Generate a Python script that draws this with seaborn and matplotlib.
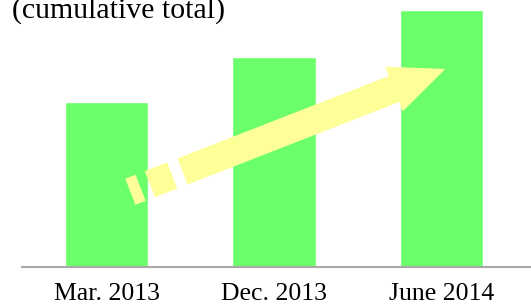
import numpy as np
import pandas as pd
import matplotlib
matplotlib.use("Agg")
import matplotlib.pyplot as plt
from matplotlib.patches import Polygon
import seaborn as sns

# data
periods = ["Mar. 2013", "Dec. 2013", "June 2014"]
totals = [165, 210, 257]
title_text = "(cumulative total)"

df = pd.DataFrame({"period": periods, "total": totals})

sns.set_style("white")
plt.rcParams["font.family"] = ["Liberation Serif", "DejaVu Serif"]

W, H = 531, 304
fig = plt.figure(figsize=(W / 100, H / 100), dpi=100)
ax = fig.add_axes([22 / W, (H - 267) / H, 509 / W, 267 / H])

sns.barplot(data=df, x="period", y="total", color="#6bff6b", width=0.5,
            saturation=1, ax=ax)

ax.set_xlim(-0.505, 2.534)
ax.set_ylim(0, 267)
ax.set_xlabel("")
ax.set_ylabel("")
ax.set_yticks([])
for s in ["top", "left", "right"]:
    ax.spines[s].set_visible(False)
ax.spines["bottom"].set_color("#a8a8a8")
ax.spines["bottom"].set_linewidth(1.5)
ax.tick_params(axis="x", length=0, pad=11.5, labelsize=18.5, colors="black")

fig.text(12 / W, (H - 18) / H, title_text, fontsize=21.5, va="baseline", ha="left",
         color="black")

# trend arrow, built in pixel space then moved to figure fraction
ang = np.deg2rad(21.3)
u = np.array([np.cos(ang), -np.sin(ang)])
n = np.array([np.sin(ang), np.cos(ang)])
base = np.array([394.0, 89.0])
tip = base + 55 * u


def to_fig(pts):
    pts = np.asarray(pts)
    return np.column_stack([pts[:, 0] / W, (H - pts[:, 1]) / H])


def seg(t0, t1, w=28):
    a = base - t0 * u
    b = base - t1 * u
    return [a - n * w / 2, a + n * w / 2, b + n * w / 2, b - n * w / 2]


yel = "#ffff99"
head = [base - n * 24, tip, base + n * 24]
body = seg(-1, 227)
for pts in [head, body, seg(238, 262), seg(272, 283)]:
    fig.patches.append(Polygon(to_fig(pts), closed=True, transform=fig.transFigure,
                               facecolor=yel, edgecolor="none", zorder=5))

fig.savefig("out.png", dpi=100)
